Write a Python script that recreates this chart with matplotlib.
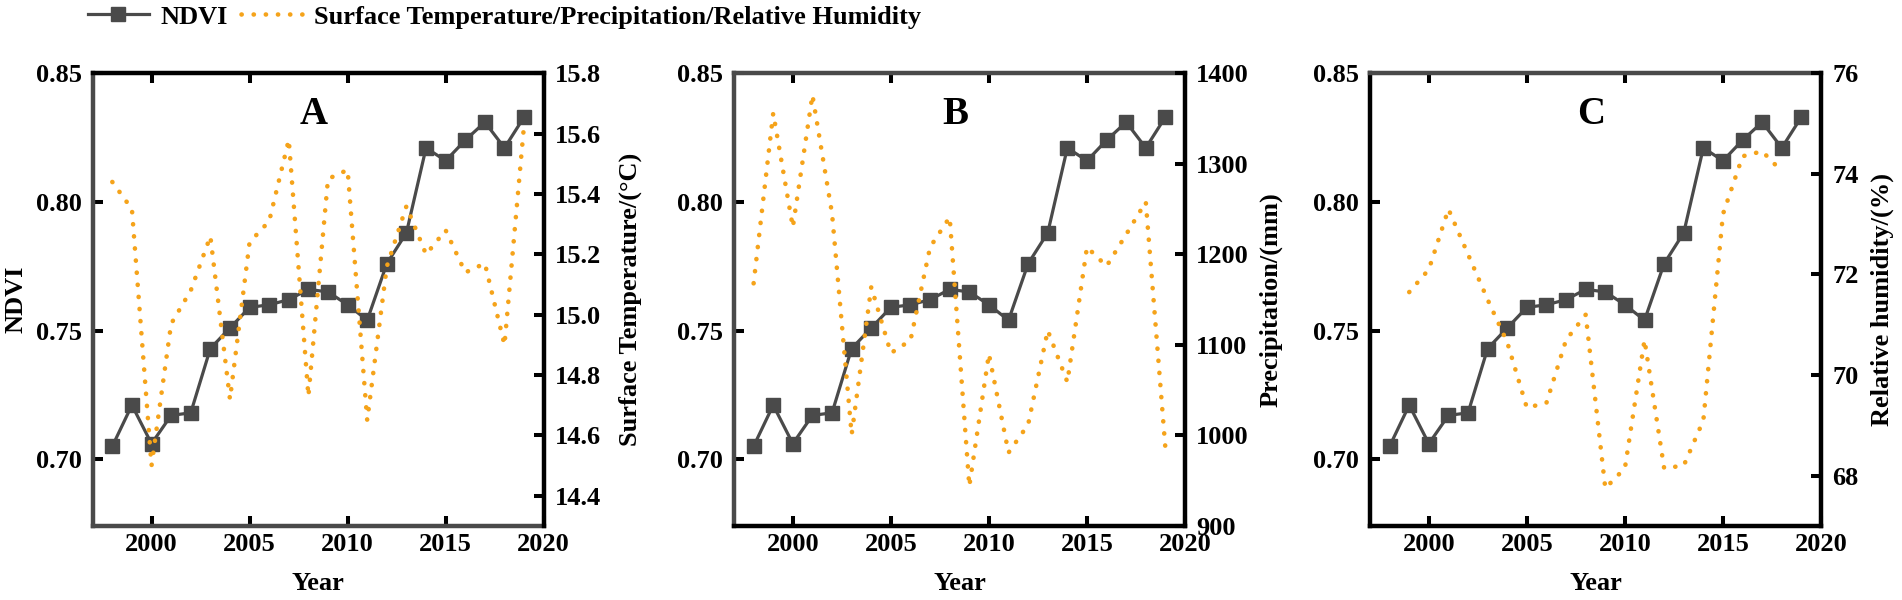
import matplotlib
matplotlib.use('Agg')
import matplotlib.pyplot as plt
from matplotlib.lines import Line2D
from matplotlib.ticker import FormatStrFormatter

# 字体：Times 风格加粗
plt.rcParams['font.family'] = ['Liberation Serif', 'DejaVu Serif']
plt.rcParams['font.weight'] = 'bold'
plt.rcParams['axes.labelweight'] = 'bold'

# 数据
years = list(range(1998, 2020))
ndvi = [0.705, 0.721, 0.706, 0.717, 0.718, 0.743, 0.751, 0.759, 0.760, 0.762, 0.766,
        0.765, 0.760, 0.754, 0.776, 0.788, 0.821, 0.816, 0.824, 0.831, 0.821, 0.833]

temp_years = list(range(1998, 2020))
temp = [15.44, 15.35, 14.50, 14.97, 15.08, 15.26, 14.72, 15.24, 15.31, 15.58, 14.73,
        15.45, 15.48, 14.65, 15.16, 15.36, 15.20, 15.28, 15.14, 15.17, 14.90, 15.63]

prec_years = list(range(1998, 2020))
prec = [1168, 1356, 1230, 1376, 1245, 1001, 1164, 1091, 1105, 1208, 1241,
        944, 1090, 981, 1012, 1116, 1059, 1208, 1187, 1222, 1258, 986]

rh_years = list(range(1999, 2019))
rh = [71.65, 72.1, 73.3, 72.4, 71.5, 70.65, 69.35, 69.45, 70.7, 71.2,
      67.75, 68.15, 70.7, 68.15, 68.2, 69.1, 73.2, 74.35, 74.45, 74.05]

x_ticks = [2000, 2005, 2010, 2015, 2020]
ndvi_ticks = [0.70, 0.75, 0.80, 0.85]

GRAY = '#4a4a4a'
ORANGE = '#f5a31a'
BLACK = '#000000'
FS = 19
DOTS = (0, (0.05, 2.6))

W, H = 1902, 600
fig = plt.figure(figsize=(W / 100, H / 100), dpi=100)

panels = [
    dict(letter='A', left=92.7, x=temp_years, y=temp, ylim=(14.3, 15.8),
         yticks=[14.4, 14.6, 14.8, 15.0, 15.2, 15.4, 15.6, 15.8], fmt='%.1f',
         ylabel='Surface Temperature/(°C)', lab_x=1.191,
         spines=dict(left=GRAY, top=BLACK, bottom=GRAY)),
    dict(letter='B', left=734, x=prec_years, y=prec, ylim=(900, 1400),
         yticks=[900, 1000, 1100, 1200, 1300, 1400], fmt='%d',
         ylabel='Precipitation/(mm)', lab_x=1.191,
         spines=dict(left=GRAY, top=GRAY, bottom=BLACK)),
    dict(letter='C', left=1370, x=rh_years, y=rh, ylim=(67, 76),
         yticks=[68, 70, 72, 74, 76], fmt='%d',
         ylabel='Relative humidity/(%)', lab_x=1.137,
         spines=dict(left=BLACK, top=GRAY, bottom=BLACK)),
]

top_px, bottom_px, width_px = 73.3, 526, 451

for i, p in enumerate(panels):
    ax = fig.add_axes([p['left'] / W, (H - bottom_px) / H, width_px / W,
                       (bottom_px - top_px) / H])
    ax.plot(years, ndvi, color=GRAY, lw=2.3, marker='s', ms=10,
            mfc=GRAY, mec=GRAY, zorder=3)
    ax.set_xlim(1997, 2020)
    ax.set_ylim(0.674, 0.85)
    ax.set_xticks(x_ticks)
    ax.set_yticks(ndvi_ticks)
    ax.yaxis.set_major_formatter(FormatStrFormatter('%.2f'))
    ax.tick_params(direction='in', length=7, width=2.9, labelsize=FS,
                   top=True, right=False, colors=BLACK)
    ax.tick_params(axis='y', pad=8)
    ax.tick_params(axis='x', pad=5)
    for side, c in p['spines'].items():
        ax.spines[side].set_color(c)
        ax.spines[side].set_linewidth(3.2)
    ax.set_xlabel('Year', fontsize=FS)
    ax.xaxis.set_label_coords(0.5, -0.126)
    ax.xaxis.label.set_va('center')
    if i == 0:
        ax.set_ylabel('NDVI', fontsize=FS)
        ax.yaxis.set_label_coords(-0.170, 0.5)
        ax.yaxis.label.set_va('center')

    ax.text(0.49, 0.91, p['letter'], transform=ax.transAxes, ha='center',
            va='center', fontsize=28, fontweight='bold')

    ax2 = ax.twinx()
    ax2.plot(p['x'], p['y'], color=ORANGE, lw=3.3, linestyle=DOTS,
             dash_capstyle='round')
    ax2.set_ylim(*p['ylim'])
    ax2.set_yticks(p['yticks'])
    ax2.yaxis.set_major_formatter(FormatStrFormatter(p['fmt']))
    ax2.tick_params(direction='in', length=7, width=2.9, labelsize=FS, pad=8)
    for side in ['left', 'top', 'bottom']:
        ax2.spines[side].set_visible(False)
    ax2.spines['right'].set_color(BLACK)
    ax2.spines['right'].set_linewidth(3.2)
    ax2.set_ylabel(p['ylabel'], fontsize=FS)
    ax2.yaxis.set_label_coords(p['lab_x'], 0.5)
    ax2.yaxis.label.set_va('center')

# 图例
handles = [
    Line2D([], [], color=GRAY, lw=2.3, marker='s', ms=10),
    Line2D([], [], color=ORANGE, lw=3.3, linestyle=DOTS, dash_capstyle='round'),
]
labels = ['NDVI', 'Surface Temperature/Precipitation/Relative Humidity']
fig.legend(handles, labels, loc='center left', ncol=2, frameon=False,
           bbox_to_anchor=(88 / W, 1 - 17 / H), bbox_transform=fig.transFigure,
           borderpad=0, borderaxespad=0, handlelength=2.3, handletextpad=0.45,
           columnspacing=0.5, prop=dict(size=FS, weight='bold'))

fig.savefig('out.png', dpi=100)
